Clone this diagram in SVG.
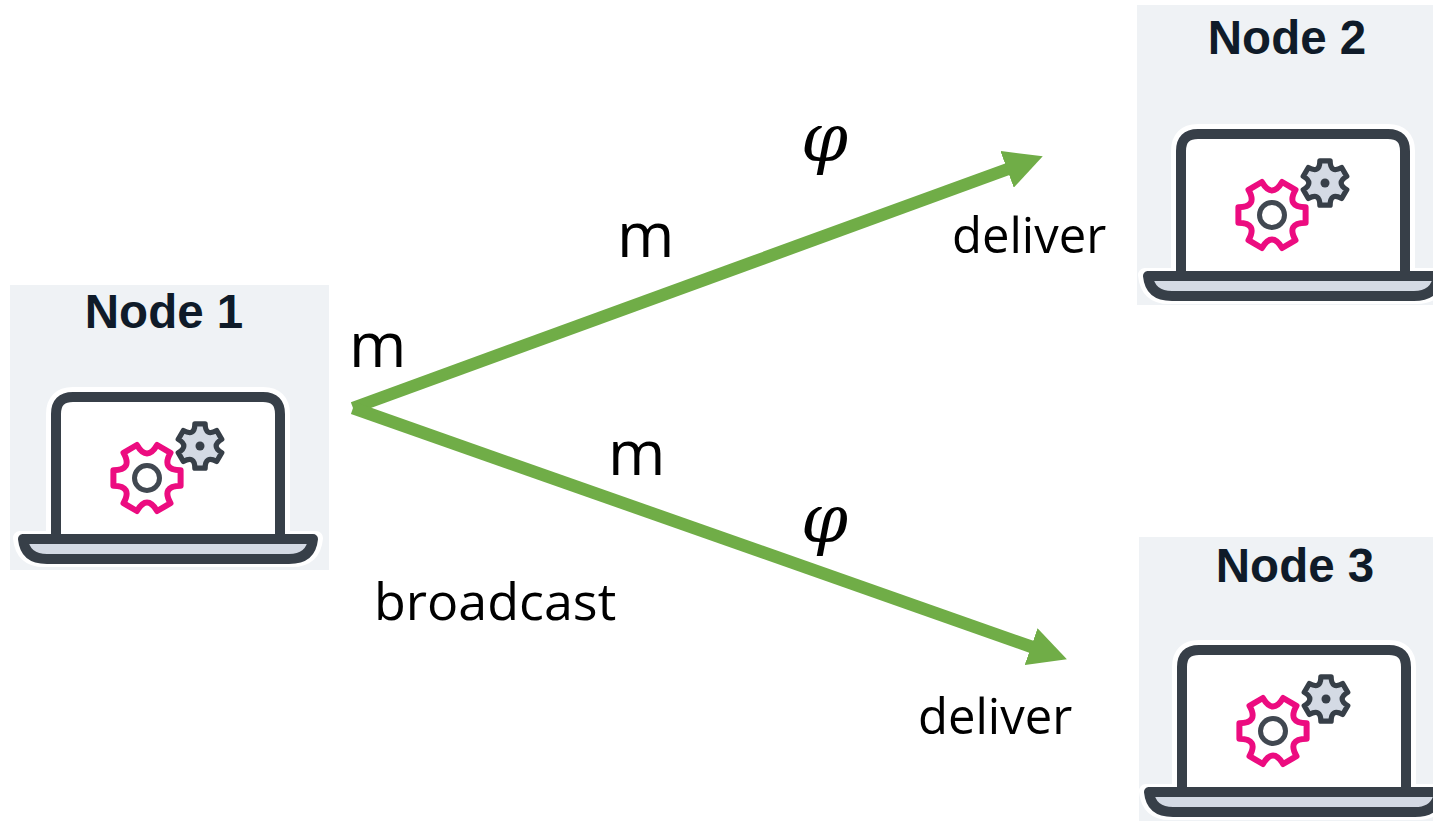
<svg xmlns="http://www.w3.org/2000/svg" width="1433" height="821" viewBox="0 0 1433 821">
<style>
.panel{fill:#eff2f5}
.title{font-family:"Liberation Sans",Arial,sans-serif;font-weight:700;font-size:47.5px;fill:#0f1b29;text-anchor:middle}
.lbl{font-family:"Open Sans","Noto Sans",sans-serif;fill:#000}
.m{font-size:62px}
.dl{font-size:49px}
.phi{font-family:"DejaVu Serif",serif;font-style:italic;font-size:67px;fill:#000}
.edge{stroke:#70ad47;stroke-width:12.5;fill:none;marker-end:url(#head)}
</style>
<defs>
<marker id="head" markerUnits="userSpaceOnUse" markerWidth="39" markerHeight="39" refX="1" refY="19.5" orient="auto"><path d="M0,0L38,19.5L0,39z" fill="#70ad47"/></marker>
<path id="gear" stroke-linejoin="round" d="M33.6,7.76Q13.9,8 23.5,25.2L10.1,33Q0,16 -10.1,33L-23.5,25.2Q-13.9,8 -33.6,7.76V-7.76Q-13.9,-8 -23.5,-25.2L-10.1,-33Q0,-16 10.1,-33L23.5,-25.2Q13.9,-8 33.6,-7.76z"/>
<g id="laptop">
<path d="M56,534V414Q56,397 73,397H263Q280,397 280,414V534z" fill="#fff" stroke="#fff" stroke-width="20"/>
<path d="M20,538H316Q314,560 292,560H44Q22,560 20,538z" fill="#fff" stroke="#fff" stroke-width="14" stroke-linejoin="round"/>
<path d="M56,536V414Q56,397 73,397H263Q280,397 280,414V536" fill="#fff" stroke="#373f48" stroke-width="10"/>
<path d="M23,539H313Q311,559 289,559H47Q25,559 23,539z" fill="#d4dae4" stroke="#373f48" stroke-width="10" stroke-linejoin="round"/>
<use href="#gear" transform="translate(147,478)" fill="#fff" stroke="#ec0c80" stroke-width="6"/>
<circle cx="147" cy="478" r="12.5" fill="#fff" stroke="#414851" stroke-width="5"/>
<use href="#gear" transform="translate(200,446) rotate(30) scale(.66)" fill="#d4dae4" stroke="#373f48" stroke-width="8"/>
<circle cx="200" cy="446" r="4.5" fill="#373f48"/>
</g>
</defs>
<rect width="1433" height="821" fill="#fff"/>
<g id="node1"><rect class="panel" x="10" y="285" width="319" height="285"/><use href="#laptop"/><text class="title" x="164" y="328">Node 1</text></g>
<g id="node2"><rect class="panel" x="1137" y="5" width="296" height="300"/><use href="#laptop" transform="translate(1125,-263)"/><text class="title" x="1287" y="54">Node 2</text></g>
<g id="node3"><rect class="panel" x="1139" y="537" width="294" height="284"/><use href="#laptop" transform="translate(1126,253)"/><text class="title" x="1295" y="582">Node 3</text></g>
<g id="connectors">
<path class="edge" d="M353,408L1008,169"/>
<path class="edge" d="M353,408L1032,647"/>
</g>
<g id="labels">
<text class="lbl m" x="349" y="367">m</text>
<text class="lbl m" x="617" y="257">m</text>
<text class="lbl m" x="608" y="475">m</text>
<text class="lbl" x="374" y="620" font-size="52">broadcast</text>
<text class="lbl dl" x="952" y="253">deliver</text>
<text class="lbl dl" x="918" y="734">deliver</text>
<text class="phi" x="801" y="161">φ</text>
<text class="phi" x="801" y="542">φ</text>
</g>
</svg>
